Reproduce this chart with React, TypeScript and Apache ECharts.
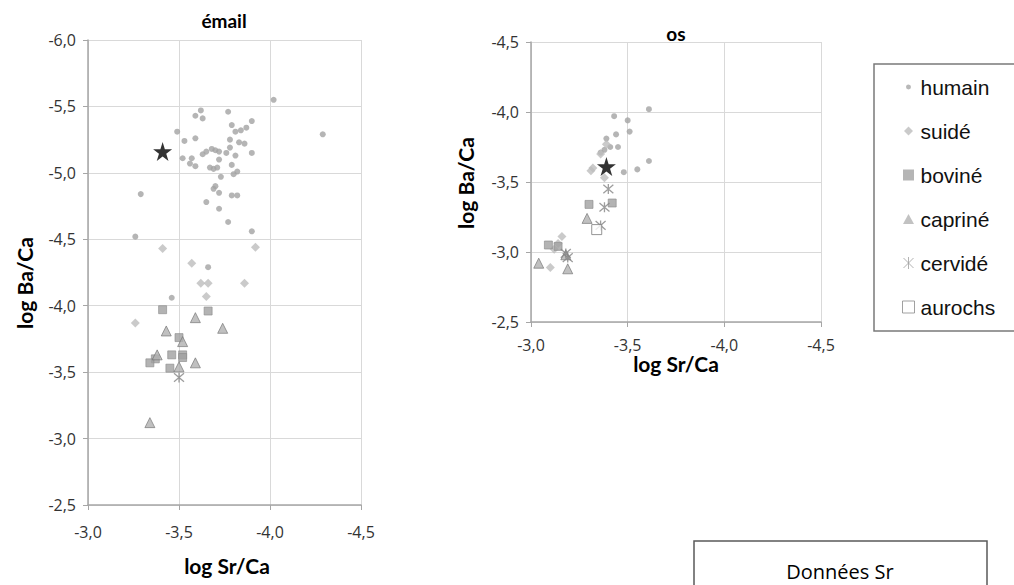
import React, { useEffect, useRef } from "react";
import * as echarts from "echarts";

// ---- data: [log Sr/Ca, log Ba/Ca] ----
const emailHumain = [
  [-4.02, -5.55], [-3.62, -5.47], [-3.59, -5.43], [-3.63, -5.41], [-3.77, -5.46], [-3.79, -5.36],
  [-3.90, -5.39], [-3.87, -5.34], [-3.84, -5.32], [-3.81, -5.31], [-3.49, -5.31], [-3.53, -5.24],
  [-3.59, -5.26], [-3.78, -5.25], [-3.83, -5.23], [-3.86, -5.22], [-3.78, -5.19], [-3.90, -5.15],
  [-3.81, -5.13], [-3.76, -5.15], [-3.63, -5.14], [-3.65, -5.16], [-3.68, -5.18], [-3.70, -5.17],
  [-3.72, -5.16], [-3.52, -5.11], [-3.57, -5.11], [-3.56, -5.07], [-3.59, -5.05], [-3.72, -5.10],
  [-3.67, -5.04], [-3.69, -5.03], [-3.71, -5.04], [-3.79, -5.06], [-3.82, -5.01], [-3.80, -4.99],
  [-3.73, -4.97], [-3.70, -4.90], [-3.69, -4.88], [-3.72, -4.85], [-3.79, -4.83], [-3.82, -4.83],
  [-3.65, -4.78], [-3.72, -4.73], [-3.77, -4.63], [-3.90, -4.56], [-3.29, -4.84], [-3.26, -4.52],
  [-4.29, -5.29], [-3.66, -4.29], [-3.46, -4.06],
];
const emailSuide = [
  [-3.41, -4.43], [-3.92, -4.44], [-3.57, -4.32], [-3.62, -4.17], [-3.66, -4.17], [-3.86, -4.17],
  [-3.65, -4.07], [-3.26, -3.87],
];
const emailBovine = [
  [-3.41, -3.97], [-3.66, -3.96], [-3.50, -3.76], [-3.46, -3.63], [-3.52, -3.63], [-3.52, -3.61],
  [-3.37, -3.60], [-3.34, -3.57], [-3.45, -3.53],
];
const emailCaprine = [
  [-3.59, -3.91], [-3.43, -3.81], [-3.74, -3.83], [-3.52, -3.73], [-3.38, -3.63], [-3.50, -3.54],
  [-3.59, -3.57], [-3.34, -3.12],
];
const emailCervide = [[-3.50, -3.46]];
const emailEtoile = [[-3.41, -5.16]];

const osHumain = [
  [-3.61, -4.02], [-3.43, -3.97], [-3.50, -3.94], [-3.51, -3.86], [-3.44, -3.84], [-3.39, -3.81],
  [-3.45, -3.75], [-3.41, -3.75], [-3.38, -3.73], [-3.36, -3.71], [-3.61, -3.65], [-3.55, -3.59],
  [-3.48, -3.57],
];
const osSuide = [
  [-3.32, -3.60], [-3.31, -3.58], [-3.38, -3.53], [-3.39, -3.77], [-3.36, -3.70], [-3.16, -3.11],
  [-3.12, -3.02], [-3.10, -2.89], [-3.14, -3.06],
];
const osBovine = [[-3.30, -3.34], [-3.42, -3.35], [-3.09, -3.05], [-3.14, -3.04]];
const osCaprine = [[-3.29, -3.24], [-3.04, -2.92], [-3.19, -2.88], [-3.18, -2.98]];
const osCervide = [[-3.40, -3.45], [-3.38, -3.32], [-3.36, -3.19], [-3.18, -2.99], [-3.19, -2.96]];
const osAurochs = [[-3.34, -3.16]];
const osEtoile = [[-3.39, -3.61]];

const legendNames = ["humain", "suidé", "boviné", "capriné", "cervidé", "aurochs"];
const chartTitles = ["émail", "os"];
const axisTitleX = "log Sr/Ca";
const axisTitleY = "log Ba/Ca";
const boxLabel = "Données Sr";

const ASTERISK = "path://M1,1L13,13M13,1L1,13M7,0L7,14";
const STAR = "path://M50,0L61.2,34.5L97.6,34.5L68.2,55.9L79.4,90.5L50,69.1L20.6,90.5L31.8,55.9L2.4,34.5L38.8,34.5Z";

const fmt = (v: number) => v.toFixed(1).replace(".", ",");

const speciesStyle: Record<string, any> = {
  humain: { symbol: "circle", symbolSize: 6, itemStyle: { color: "#a3a3a3" } },
  "suidé": { symbol: "diamond", symbolSize: 9, itemStyle: { color: "#bdbdbd" } },
  "boviné": { symbol: "rect", symbolSize: 8, itemStyle: { color: "#a0a0a0", borderColor: "#8c8c8c", borderWidth: 0.8 } },
  "capriné": { symbol: "triangle", symbolSize: 10, itemStyle: { color: "#b0b0b0", borderColor: "#6e6e6e", borderWidth: 0.8 } },
  "cervidé": { symbol: ASTERISK, symbolSize: 10, itemStyle: { color: "none", borderColor: "#858585", borderWidth: 1.3 } },
  aurochs: { symbol: "rect", symbolSize: 10, itemStyle: { color: "#ffffff", borderColor: "#7a7a7a", borderWidth: 1 } },
};

const legendIcons: Record<string, string> = {
  humain: "path://M0,0M14,14M4.5,7a2.5,2.5 0 1,0 5,0a2.5,2.5 0 1,0 -5,0z",
  "suidé": "path://M0,0M14,14M7,2.5L11.5,7L7,11.5L2.5,7Z",
  "boviné": "path://M0,0M14,14M1.5,1.5L12.5,1.5L12.5,12.5L1.5,12.5Z",
  "capriné": "path://M0,0M14,14M7,2L12.5,12L1.5,12Z",
  "cervidé": "path://M0,0M14,14M2,2L12,12M12,2L2,12M7,1L7,13",
  aurochs: "path://M0,0M14,14M1,1L13,1L13,13L1,13Z",
};
const legendItemStyles: Record<string, any> = {
  humain: { color: "#a6a6a6", borderWidth: 0 },
  "suidé": { color: "#bdbdbd", borderWidth: 0 },
  "boviné": { color: "#a3a3a3", borderWidth: 0 },
  "capriné": { color: "#b3b3b3", borderWidth: 0 },
  "cervidé": { color: "none", borderColor: "#a0a0a0", borderWidth: 1 },
  aurochs: { color: "#ffffff", borderColor: "#8a8a8a", borderWidth: 1 },
};

function mkSeries(name: string, data: number[][], idx: number) {
  return { type: "scatter", name, data, xAxisIndex: idx, yAxisIndex: idx, ...speciesStyle[name] };
}

function axisCommon(margin: number) {
  return {
    type: "value",
    interval: 0.5,
    inverse: true,
    axisLine: { show: true, onZero: false, lineStyle: { color: "#a6a6a6", width: 1.5 } },
    axisTick: { show: true, length: 5, lineStyle: { color: "#a6a6a6" } },
    splitLine: { show: true, lineStyle: { color: "#d9d9d9", width: 1 } },
    axisLabel: { color: "#333333", fontFamily: "Open Sans", fontSize: 16, margin, formatter: fmt },
  };
}

function txt(text: string, x: number, y: number, font: string, rot = 0) {
  return {
    type: "text",
    x,
    y,
    rotation: rot,
    style: { text, x: 0, y: 0, font, fill: "#000000", align: "center", verticalAlign: "middle", textAlign: "center", textVerticalAlign: "middle" },
  };
}

export default function App() {
  const ref = useRef<HTMLDivElement>(null);
  useEffect(() => {
    document.body.style.margin = "0";
    const chart = echarts.init(ref.current!, null, { renderer: "svg" });
    const titleFont = "bold 21px Lato";
    chart.setOption({
      animation: false,
      backgroundColor: "#ffffff",
      grid: [
        { left: 88, top: 40, width: 273, height: 465 },
        { left: 531, top: 42, width: 290, height: 280 },
      ],
      xAxis: [
        { ...axisCommon(19), gridIndex: 0, min: -4.5, max: -3 },
        { ...axisCommon(15), gridIndex: 1, min: -4.5, max: -3 },
      ],
      yAxis: [
        { ...axisCommon(12), gridIndex: 0, min: -6, max: -2.5 },
        { ...axisCommon(12), gridIndex: 1, min: -4.5, max: -2.5 },
      ],
      legend: {
        data: legendNames.map((n) => ({ name: n, icon: legendIcons[n], itemStyle: legendItemStyles[n] })),
        orient: "vertical",
        left: 894,
        top: 71,
        itemWidth: 14,
        itemHeight: 14,
        itemGap: 22,
        selectedMode: false,
        textStyle: { fontFamily: "Liberation Sans", fontSize: 21, lineHeight: 22, color: "#111111" },
      },
      series: [
        mkSeries("humain", emailHumain, 0),
        mkSeries("suidé", emailSuide, 0),
        mkSeries("boviné", emailBovine, 0),
        mkSeries("capriné", emailCaprine, 0),
        mkSeries("cervidé", emailCervide, 0),
        { type: "scatter", name: "étoile", data: emailEtoile, xAxisIndex: 0, yAxisIndex: 0, symbol: STAR, symbolSize: 19, itemStyle: { color: "#000000" } },
        mkSeries("humain", osHumain, 1),
        mkSeries("suidé", osSuide, 1),
        mkSeries("boviné", osBovine, 1),
        mkSeries("capriné", osCaprine, 1),
        mkSeries("cervidé", osCervide, 1),
        mkSeries("aurochs", osAurochs, 1),
        { type: "scatter", name: "étoile", data: osEtoile, xAxisIndex: 1, yAxisIndex: 1, symbol: STAR, symbolSize: 19, itemStyle: { color: "#000000" } },
      ],
      graphic: [
        txt(chartTitles[0], 224, 20, "bold 19px Lato"),
        txt(chartTitles[1], 676, 33, "bold 19px Lato"),
        txt(axisTitleY, 24, 283, titleFont, Math.PI / 2),
        txt(axisTitleX, 227, 565, titleFont),
        txt(axisTitleY, 465, 183, titleFont, Math.PI / 2),
        txt(axisTitleX, 676, 363, titleFont),
        { type: "rect", shape: { x: 874, y: 64, width: 200, height: 267 }, style: { fill: "none", stroke: "#7a7a7a", lineWidth: 1.5 } },
        { type: "rect", shape: { x: 694, y: 541, width: 293, height: 80 }, style: { fill: "none", stroke: "#5a5a5a", lineWidth: 1.5 } },
        txt(boxLabel, 840, 571, "20px 'Open Sans'"),
      ],
    });
    return () => chart.dispose();
  }, []);
  return <div ref={ref} style={{ width: 1014, height: 585 }} />;
}
